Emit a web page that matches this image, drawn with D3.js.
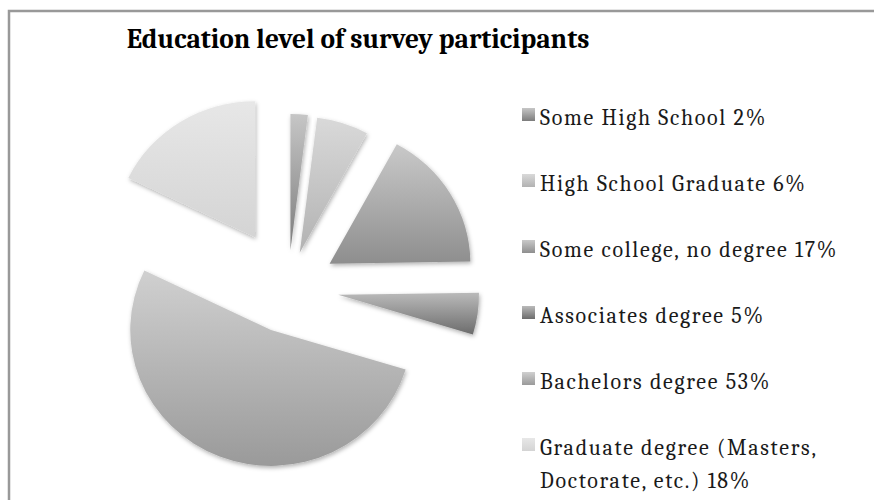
<!DOCTYPE html>
<html>
<head>
<meta charset="utf-8">
<script src="https://cdn.jsdelivr.net/npm/d3@7"></script>
<style>
  html, body { margin: 0; padding: 0; background: #fff; }
  svg { display: block; }
</style>
</head>
<body>
<svg id="chart_svg" width="874" height="500"></svg>
<script>
const title = "Education level of survey participants"
const categories = [
  "Some High School",
  "High School Graduate",
  "Some college, no degree",
  "Associates degree",
  "Bachelors degree",
  "Graduate degree (Masters, Doctorate, etc.)",
]
const percents = [2, 6, 17, 5, 53, 18]

// styling per slice: gradient top/bottom and how far each slice is pulled out
const gradTop = ["#c6c6c6", "#d9d9d9", "#c9c9c9", "#bababa", "#d0d0d0", "#e7e7e7"]
const gradBottom = ["#7c7c7c", "#b2b2b2", "#8e8e8e", "#6c6c6c", "#9a9a9a", "#d4d4d4"]
const explodeOffset = [38, 37, 47, 49, 45, 60]

const width = 874
const height = 500
const center = { x: 288, y: 288 }
const radius = 136
const xStretch = 1.035

const svg = d3.select("#chart_svg")
const defs = svg.append("defs")

const shadow = defs.append("filter")
  .attr("id", "slice_shadow")
  .attr("x", "-20%").attr("y", "-20%")
  .attr("width", "140%").attr("height", "140%")
shadow.append("feDropShadow")
  .attr("dx", 1).attr("dy", 2)
  .attr("stdDeviation", 2)
  .attr("flood-color", "#000")
  .attr("flood-opacity", 0.3)

categories.forEach((c, i) => {
  let g = defs.append("linearGradient")
    .attr("id", "grad_" + i)
    .attr("x1", 0).attr("y1", 0)
    .attr("x2", 0).attr("y2", 1)
  g.append("stop").attr("offset", "0%").attr("stop-color", gradTop[i])
  g.append("stop").attr("offset", "100%").attr("stop-color", gradBottom[i])
})

// frame (only top and left edges are inside the picture)
svg.append("path")
  .attr("d", `M9,${height + 5} V11 H${width + 5}`)
  .attr("fill", "none")
  .attr("stroke", "#999")
  .attr("stroke-width", 2.5)

svg.append("text")
  .attr("x", 358)
  .attr("y", 48)
  .attr("text-anchor", "middle")
  .attr("font-family", "Cambria, 'Liberation Serif', serif")
  .attr("font-weight", "bold")
  .attr("font-size", 27.4)
  .attr("fill", "#000")
  .text(title)

const data = categories.map((c, i) => ({ name: c, value: percents[i], i: i }))

const pie = d3.pie().sort(null).value((d) => d.value)
const arc = d3.arc().innerRadius(0).outerRadius(radius)

const g_pie = svg.append("g")
  .attr("transform", `translate(${center.x},${center.y}) scale(${xStretch},1)`)

g_pie.selectAll(".slice")
  .data(pie(data))
  .join("path")
  .attr("class", "slice")
  .attr("d", arc)
  .attr("fill", (d) => `url(#grad_${d.data.i})`)
  .attr("filter", "url(#slice_shadow)")
  .attr("transform", (d) => {
    let mid = (d.startAngle + d.endAngle) / 2
    let off = explodeOffset[d.data.i]
    return `translate(${Math.sin(mid) * off},${-Math.cos(mid) * off})`
  })

// legend
const legendX = 522
const legendY0 = 125
const legendStep = 66
const lineH = 33
const maxTextW = 310

const legend = svg.append("g").attr("class", "legend")

const items = legend.selectAll(".legend_item")
  .data(data)
  .join("g")
  .attr("class", "legend_item")
  .attr("transform", (d, i) => `translate(${legendX},${legendY0 + i * legendStep})`)

items.append("rect")
  .attr("x", 0)
  .attr("y", -17)
  .attr("width", 13)
  .attr("height", 13)
  .attr("fill", (d) => `url(#grad_${d.i})`)

items.each(function (d) {
  let t = d3.select(this).append("text")
    .attr("x", 18)
    .attr("y", 0)
    .attr("font-family", "Cambria, 'Liberation Serif', serif")
    .attr("font-size", 22)
    .attr("letter-spacing", 1.7)
    .attr("fill", "#1a1a1a")
  let words = (d.name + " " + d.value + "%").split(" ")
  let line = []
  let tspan = t.append("tspan").attr("x", 18).attr("dy", 0)
  words.forEach((w) => {
    line.push(w)
    tspan.text(line.join(" "))
    if (tspan.node().getComputedTextLength() > maxTextW && line.length > 1) {
      line.pop()
      tspan.text(line.join(" "))
      line = [w]
      tspan = t.append("tspan").attr("x", 18).attr("dy", lineH).text(w)
    }
  })
})
</script>
</body>
</html>
